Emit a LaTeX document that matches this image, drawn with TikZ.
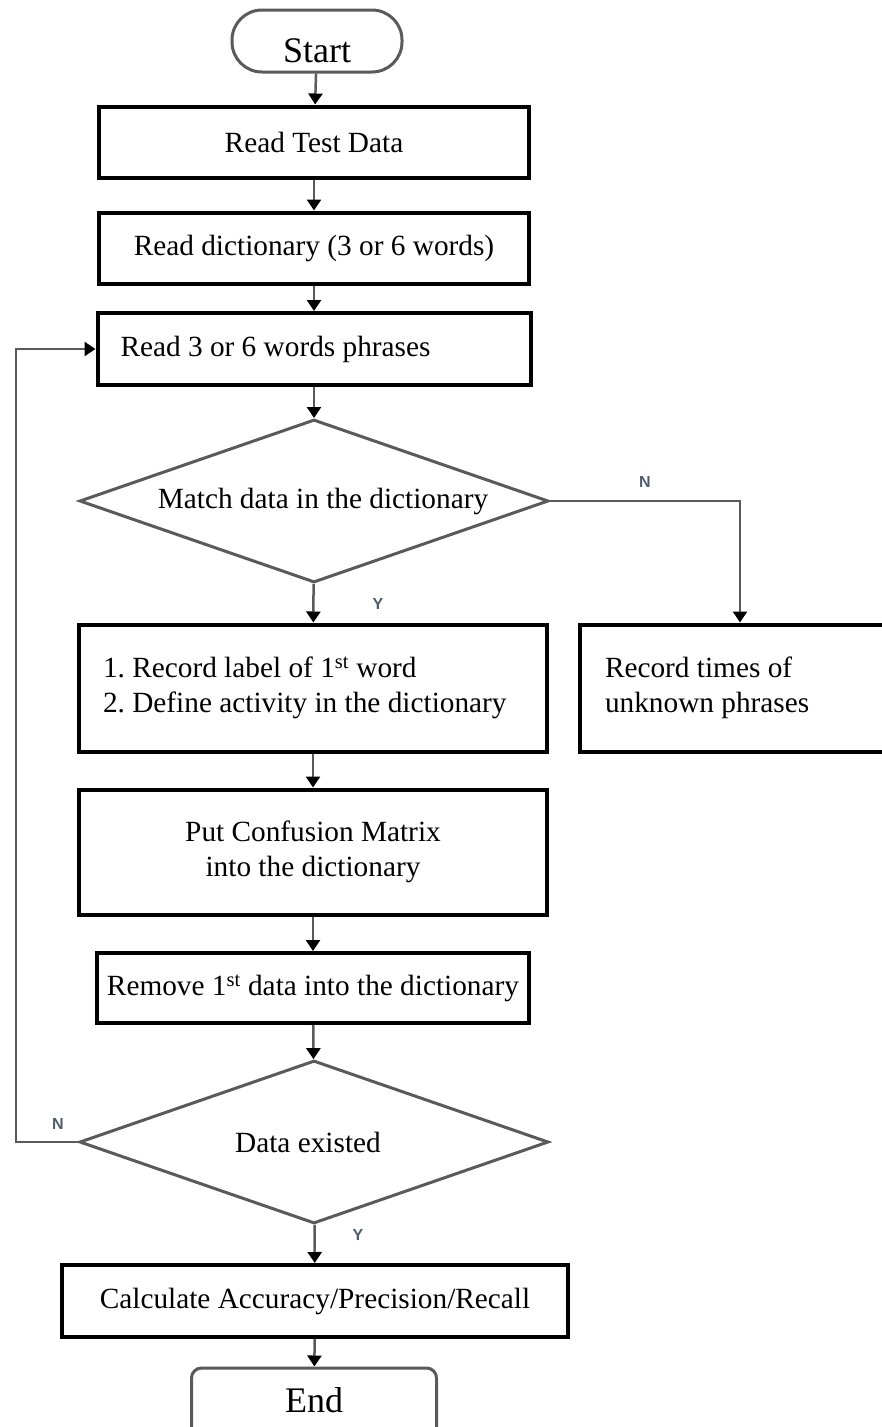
\documentclass[tikz,border=0pt]{standalone}
\usepackage{fontspec}
\setmainfont{Liberation Serif}
\setsansfont{Liberation Sans}
\usepackage{tikz}
\usetikzlibrary{shapes.geometric}
\usetikzlibrary{arrows.meta}
\usetikzlibrary{positioning}

\definecolor{linegray}{HTML}{5A5A5A}
\definecolor{yngray}{HTML}{4F5B6E}
\frenchspacing

\tikzset{
  box/.style={draw=black, line width=4pt, fill=white, inner sep=0pt,
    minimum height=71pt, font=\fontsize{29.3}{35}\selectfont},
  lbox/.style={box, align=left, inner xsep=23pt,
    execute at begin node={\spaceskip=0pt\xspaceskip=0pt\relax}},
  cbox/.style={box, align=center},
  dec/.style={draw=linegray, line width=3pt, diamond, aspect=2.88, inner sep=0pt,
    minimum width=469pt, minimum height=163pt, font=\fontsize{29.3}{35}\selectfont},
  term/.style={draw=linegray, line width=3pt, fill=white, inner sep=0pt,
    text depth=0pt, font=\fontsize{36}{42}\selectfont},
  yn/.style={text=yngray, font=\sffamily\bfseries\fontsize{16}{18}\selectfont},
  flow/.style={draw=linegray, line width=2.5pt, -{Triangle[width=14pt,length=11pt,color=black]}}
}

\begin{document}
\begin{tikzpicture}[x=1pt, y=-1pt]
\useasboundingbox (0,0) rectangle (882,1427);

\node[term, rounded corners=30pt, minimum width=170pt, minimum height=62pt, text height=42pt] (start) at (317,41) {Start};
\node[cbox, minimum width=430pt] (rtest) at (314,142) {Read Test Data};
\node[cbox, minimum width=430pt] (rdict) at (314,248) {Read dictionary (3 or 6 words)};
\node[lbox, text width=387pt, minimum height=72pt] (rphr) at (314,349) {Read 3 or 6 words phrases};
\node[dec] (match) at (314,501) {\hspace*{18pt}Match data in the dictionary};
\node[lbox, text width=420pt, inner xsep=24pt, minimum height=127pt] (rec) at (313,688) {1. Record label of 1\textsuperscript{st} word\\2. Define activity in the dictionary};
\node[lbox, text width=270pt, inner xsep=25pt, minimum height=127pt] (unk) at (740,688) {Record times of\\unknown phrases};
\node[cbox, minimum width=468pt, minimum height=125pt] (conf) at (313,852) {Put Confusion Matrix\\into the dictionary};
\node[cbox, minimum width=432pt, minimum height=70pt] (rem) at (313,988) {Remove 1\textsuperscript{st} data into the dictionary};
\node[dec] (exist) at (314,1142) {Data existed\hspace*{12pt}};
\node[cbox, minimum width=506pt, minimum height=72pt] (calc) at (315,1301) {Calculate Accuracy/Precision/Recall};
\node[term, rounded corners=10pt, minimum width=245pt, minimum height=72pt, text height=16pt] (stop) at (314,1404) {End};

\node[yn] (n1) at (645,482) {N};
\node[yn] (y1) at (378,604) {Y};
\node[yn] (n2) at (58,1124) {N};
\node[yn] (y2) at (358,1235) {Y};
\coordinate (back) at (16,1142);

\draw[flow] (start) -- (rtest);
\draw[flow] (rtest) -- (rdict);
\draw[flow] (rdict) -- (rphr);
\draw[flow] (rphr) -- (match);
\draw[flow] (match) -- (rec);
\draw[flow] (match.east) -| (unk.north);
\draw[flow] (rec) -- (conf);
\draw[flow] (conf) -- (rem);
\draw[flow] (rem) -- (exist);
\draw[flow] (exist) -- (calc);
\draw[flow] (calc) -- (stop);
\draw[flow] (exist.west) -- (back) |- (rphr.west);
\end{tikzpicture}
\end{document}
